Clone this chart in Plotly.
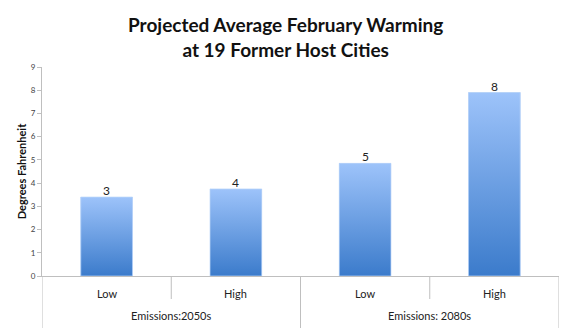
import plotly.graph_objects as go

# Projected average February warming (degrees F) by emissions scenario and period
periods = ["Emissions:2050s", "Emissions:2050s", "Emissions: 2080s", "Emissions: 2080s"]
scenarios = ["Low", "High", "Low", "High"]
warming = [3.4, 3.75, 4.85, 7.9]
y_ticks = list(range(0, 10))

BAR_W = 0.4
AXIS_GREY = "#bfbfbf"
FONT = "Lato, 'Open Sans', sans-serif"
FIG_W, FIG_H = 570, 328
MARGIN = dict(l=42, r=11, t=67, b=52)
PLOT_W = FIG_W - MARGIN["l"] - MARGIN["r"]
PLOT_H = FIG_H - MARGIN["t"] - MARGIN["b"]
positions = list(range(len(warming)))


def below_axis(px):
    """Paper y-coordinate for a point `px` pixels below the x axis line."""
    return -px / PLOT_H


fig = go.Figure()

# Base bars
fig.add_trace(go.Bar(
    x=positions,
    y=warming,
    width=BAR_W,
    marker=dict(color="#6d9fe6", line=dict(width=0)),
    hoverinfo="skip",
    showlegend=False,
))

# Vertical gradient fill drawn over each bar
for i, v in zip(positions, warming):
    x0, x1 = i - BAR_W / 2, i + BAR_W / 2
    fig.add_trace(go.Scatter(
        x=[x0, x1, x1, x0, x0],
        y=[0, 0, v, v, 0],
        mode="lines",
        line=dict(width=0.8, color="rgba(190,215,250,0.9)"),
        fill="toself",
        fillgradient=dict(type="vertical",
                          colorscale=[[0, "#3b7bcb"], [1, "#9dc3fa"]]),
        hoverinfo="skip",
        showlegend=False,
    ))

annotations = []
shapes = []

# Value labels, rounded to whole degrees, sitting on top of each bar
for i, v in zip(positions, warming):
    annotations.append(dict(
        x=i, y=v, xref="x", yref="y", text=f"{v:.0f}",
        showarrow=False, yanchor="bottom", yshift=-3,
        font=dict(size=12, color="#222222"),
    ))

# First row of category labels: scenario
for i, s in zip(positions, scenarios):
    annotations.append(dict(
        x=i, y=below_axis(17), xref="x", yref="paper", text=s,
        showarrow=False, yanchor="middle",
        font=dict(size=11, color="#222222"),
    ))

# Second row: period groups, centred under their bars
groups = []
for i, p in zip(positions, periods):
    if groups and groups[-1][0] == p:
        groups[-1][2] = i
    else:
        groups.append([p, i, i])
for p, first, last in groups:
    annotations.append(dict(
        x=(first + last) / 2, y=below_axis(39), xref="x", yref="paper",
        text=p, showarrow=False, yanchor="middle",
        font=dict(size=11, color="#222222"),
    ))

# Divider lines: short ones between scenarios, full-height ones between periods
group_edges = {first - 0.5 for _, first, _ in groups} | {last + 0.5 for _, _, last in groups}
for i in positions[1:]:
    edge = i - 0.5
    if edge not in group_edges:
        shapes.append(dict(type="line", xref="x", yref="paper",
                           x0=edge, x1=edge, y0=0, y1=below_axis(23),
                           line=dict(color=AXIS_GREY, width=1)))
for edge in sorted(group_edges):
    shapes.append(dict(type="line", xref="x", yref="paper",
                       x0=edge, x1=edge, y0=0, y1=below_axis(MARGIN["b"]),
                       line=dict(color=AXIS_GREY, width=1)))

# Chart title, centred on the page and 30 px above the plot area
annotations.append(dict(
    x=(FIG_W / 2 - MARGIN["l"]) / PLOT_W, y=1 + 30 / PLOT_H,
    xref="paper", yref="paper",
    text="<b>Projected Average February Warming<br>at 19 Former Host Cities</b>",
    showarrow=False, xanchor="center", yanchor="middle",
    font=dict(size=19, color="#111111"),
))

fig.update_layout(
    width=FIG_W, height=FIG_H,
    margin=MARGIN,
    paper_bgcolor="white", plot_bgcolor="white",
    font=dict(family=FONT, color="#222222"),
    annotations=annotations,
    shapes=shapes,
    xaxis=dict(
        range=[-0.5, len(warming) - 0.5],
        showline=True, linecolor=AXIS_GREY, linewidth=1,
        showticklabels=False, ticks="",
        showgrid=False, zeroline=False, fixedrange=True,
    ),
    yaxis=dict(
        range=[0, 9], tickvals=y_ticks,
        showline=True, linecolor=AXIS_GREY, linewidth=1,
        ticks="outside", ticklen=4, tickcolor=AXIS_GREY,
        tickfont=dict(size=8, color="#444444"),
        showgrid=False, zeroline=False, fixedrange=True,
        title=dict(text="<b>Degrees Fahrenheit</b>",
                   font=dict(size=11, color="#111111"), standoff=1),
    ),
)

fig.write_html("out.html")
